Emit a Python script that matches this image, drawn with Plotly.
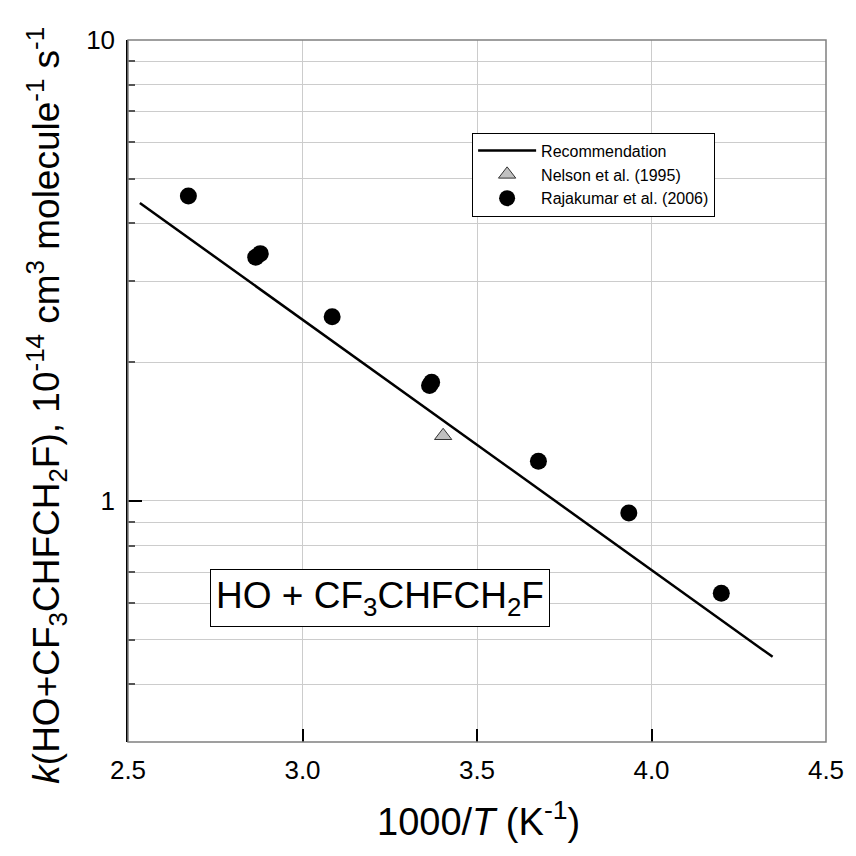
import plotly.graph_objects as go

# ---- data ----
rec_x = [2.534, 4.347]
rec_y = [4.43, 0.459]

nelson_x = [3.403]
nelson_y = [1.385]

raja_x = [2.673, 2.866, 2.879, 3.085, 3.364, 3.370, 3.676, 3.935, 4.200]
raja_y = [4.59, 3.38, 3.44, 2.51, 1.78, 1.81, 1.22, 0.942, 0.631]

x_ticks = [2.5, 3.0, 3.5, 4.0, 4.5]
x_ticktext = ["2.5", "3.0", "3.5", "4.0", "4.5"]
y_major = [1, 10]
y_major_text = ["1", "10"]
y_minor = [0.3, 0.4, 0.5, 0.6, 0.7, 0.8, 0.9, 2, 3, 4, 5, 6, 7, 8, 9]

FONT = "Arial, Liberation Sans, sans-serif"

fig = go.Figure()
fig.add_trace(go.Scatter(x=rec_x, y=rec_y, mode="lines", name="Recommendation",
                         line=dict(color="black", width=2.5)))
fig.add_trace(go.Scatter(x=nelson_x, y=nelson_y, mode="markers", name="Nelson et al. (1995)",
                         marker=dict(symbol="triangle-up", size=15, color="#c0c0c0",
                                     line=dict(color="#333333", width=1))))
fig.add_trace(go.Scatter(x=raja_x, y=raja_y, mode="markers", name="Rajakumar et al. (2006)",
                         marker=dict(symbol="circle", size=17, color="black",
                                     line=dict(color="black", width=0))))

fig.update_layout(
    width=856, height=856,
    margin=dict(l=128, r=24, t=40, b=114),
    paper_bgcolor="white", plot_bgcolor="white",
    font=dict(family=FONT, color="black"),
    showlegend=True,
    legend=dict(x=0.493, y=0.868, xanchor="left", yanchor="top",
                bgcolor="white", bordercolor="black", borderwidth=1,
                font=dict(size=16, family=FONT), itemwidth=58,
                tracegroupgap=0),
    xaxis=dict(range=[2.5, 4.5], tickvals=x_ticks, ticktext=x_ticktext,
               ticks="inside", ticklen=13, tickcolor="black", tickwidth=1.5,
               showgrid=True, gridcolor="#cccccc", gridwidth=1,
               showline=False, zeroline=False, ticklabelstandoff=10,
               tickfont=dict(size=26, family=FONT)),
    yaxis=dict(type="log", range=[-0.5229, 1.0], tickvals=y_major, ticktext=y_major_text,
               ticks="inside", ticklen=14, tickcolor="black", tickwidth=1.5,
               showgrid=True, gridcolor="#cccccc", gridwidth=1,
               showline=True, linecolor="black", linewidth=1.5, zeroline=False,
               ticklabelstandoff=6,
               tickfont=dict(size=26, family=FONT),
               minor=dict(tickvals=y_minor, ticks="inside", ticklen=7,
                          tickcolor="#555555", tickwidth=1.5,
                          showgrid=True, gridcolor="#cccccc", gridwidth=1)),
    shapes=[dict(type="rect", xref="paper", yref="paper", x0=0, y0=0, x1=1, y1=1,
                 line=dict(color="#808080", width=1.5), layer="above")],
    annotations=[
        dict(text="HO + CF<sub>3</sub>CHFCH<sub>2</sub>F", xref="paper", yref="paper",
             x=0.361, y=0.205, xanchor="center", yanchor="middle", showarrow=False,
             font=dict(size=37, family=FONT), bordercolor="black", borderwidth=1,
             borderpad=5, bgcolor="white"),
        dict(text="1000/<i>T</i> (K<sup>-1</sup>)", xref="paper", yref="paper",
             x=0.502, y=-0.11, xanchor="center", yanchor="middle", showarrow=False,
             font=dict(size=38, family=FONT)),
        dict(text="<i>k</i>(HO+CF<sub>3</sub>CHFCH<sub>2</sub>F), 10<sup>-14</sup> cm<sup>3</sup> molecule<sup>-1</sup> s<sup>-1</sup>",
             xref="paper", yref="paper", x=-0.118, y=0.48, xanchor="center", yanchor="middle",
             textangle=-90, showarrow=False, font=dict(size=37, family=FONT)),
    ],
)

fig.write_html("out.html")
